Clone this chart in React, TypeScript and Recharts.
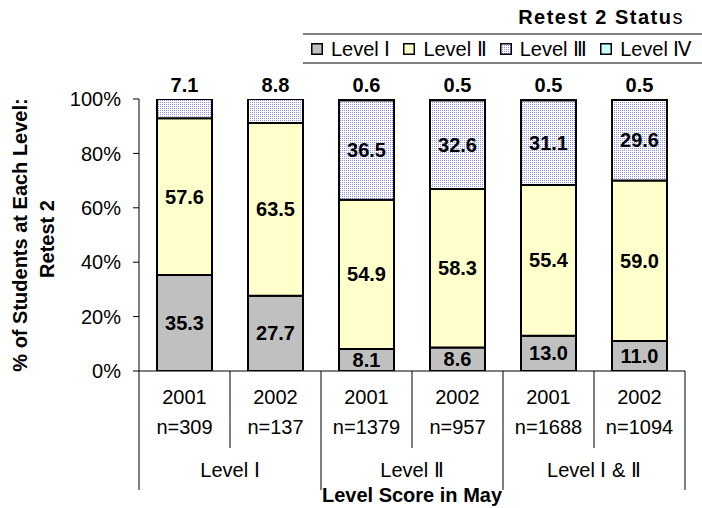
import { BarChart, Bar, XAxis, YAxis, Legend, LabelList, Label } from "recharts";

const categories = ["2001", "2002", "2001", "2002", "2001", "2002"];
const sampleSizes = ["n=309", "n=137", "n=1379", "n=957", "n=1688", "n=1094"];
const groups = ["Level Ⅰ", "Level Ⅱ", "Level Ⅰ & Ⅱ"];
const levelOne = [35.3, 27.7, 8.1, 8.6, 13.0, 11.0];
const levelTwo = [57.6, 63.5, 54.9, 58.3, 55.4, 59.0];
const levelThree = [7.1, 8.8, 36.5, 32.6, 31.1, 29.6];
const levelFour = [0, 0, 0.6, 0.5, 0.5, 0.5];
const yTicks = [0, 20, 40, 60, 80, 100];
const seriesNames = ["Level Ⅰ", "Level Ⅱ", "Level Ⅲ", "Level Ⅳ"];

const FONT = "'Liberation Sans', Arial, sans-serif";
const colors = ["#C0C0C0", "#FFFFCC", "url(#dots)", "#CCFFFF"];
const HALF_BAND = (702 - 139 - 17) / 6 / 2;

const data = categories.map((year, i) => ({
  id: `${groups[Math.floor(i / 2)]} ${year}`,
  year,
  n: sampleSizes[i],
  group: groups[Math.floor(i / 2)],
  l1: levelOne[i],
  l2: levelTwo[i],
  l3: levelThree[i],
  l4: levelFour[i],
}));

const labelText = (x: number, y: number, value: number) => (
  <text x={x} y={y} textAnchor="middle" fontFamily={FONT} fontWeight="bold" fontSize={20} fill="#000">
    {value.toFixed(1)}
  </text>
);

const centerLabel = (props: any) => {
  const { x, y, width, height, value } = props;
  return labelText(x + width / 2, y + height / 2 + 7, value);
};

// level III goes above the bar when there is no level IV on top of it
const levelThreeLabel = (props: any) => {
  const { x, y, width, height, value, index } = props;
  if (levelFour[index] > 0) return labelText(x + width / 2, y + height / 2 + 7, value);
  return labelText(x + width / 2, y - 7, value);
};

const levelFourLabel = (props: any) => {
  const { x, y, width, value } = props;
  if (!value) return null;
  return labelText(x + width / 2, y - 7, value);
};

const CategoryTick = (props: any) => {
  const { x, y, index } = props;
  const d = data[index];
  const shortLen = 77;
  const longLen = 119;
  return (
    <g fontFamily={FONT} fontSize={20} fill="#000">
      <text x={x} y={y + 33} textAnchor="middle">{d.year}</text>
      <text x={x} y={y + 63} textAnchor="middle">{d.n}</text>
      {index === 0 && (
        <line x1={x - HALF_BAND} y1={y} x2={x - HALF_BAND} y2={y + longLen} stroke="#000" />
      )}
      <line
        x1={x + HALF_BAND}
        y1={y}
        x2={x + HALF_BAND}
        y2={y + (index % 2 === 1 ? longLen : shortLen)}
        stroke="#000"
      />
      {index % 2 === 1 && (
        <text x={x - HALF_BAND} y={y + 106} textAnchor="middle">{d.group}</text>
      )}
    </g>
  );
};

const YTitle = (props: any) => {
  const cy = props.viewBox.y + props.viewBox.height / 2;
  return (
    <g fontFamily={FONT} fontWeight="bold" fontSize={20} fill="#000" textAnchor="middle">
      <text transform={`translate(27, ${cy}) rotate(-90)`}>% of Students at Each Level:</text>
      <text transform={`translate(54, ${cy + 4}) rotate(-90)`}>Retest 2</text>
    </g>
  );
};

const LegendBox = () => (
  <div style={{ fontFamily: FONT, color: "#000" }}>
    <svg width={0} height={0} style={{ position: "absolute" }}>
      <defs>
        <pattern id="dots" width={2} height={2} patternUnits="userSpaceOnUse">
          <rect width={2} height={2} fill="#FFFFFF" />
          <rect width={1} height={1} fill="#8C8CFF" />
        </pattern>
      </defs>
    </svg>
    <div
      style={{
        fontWeight: "bold",
        fontSize: 20,
        letterSpacing: 1.5,
        textAlign: "right",
        paddingRight: 18,
        height: 31,
        lineHeight: "30px",
      }}
    >
      Retest 2 Statu<span style={{ fontWeight: "normal" }}>s</span>
    </div>
    <div
      style={{
        borderTop: "2px solid #808080",
        borderBottom: "2px solid #808080",
        height: 27,
        display: "flex",
        alignItems: "center",
        paddingLeft: 8,
        fontSize: 20,
        whiteSpace: "nowrap",
      }}
    >
      {seriesNames.map((name, i) => (
        <span key={name} style={{ display: "flex", alignItems: "center", marginRight: 13 }}>
          <svg width={12} height={12} style={{ marginRight: 8 }}>
            <rect x={0.75} y={0.75} width={10.5} height={10.5} fill={colors[i]} stroke="#000" strokeWidth={1.5} />
          </svg>
          {name}
        </span>
      ))}
    </div>
  </div>
);

export default function App() {
  return (
    <div style={{ position: "absolute", left: 0, top: 0 }}>
      <BarChart
        width={702}
        height={508}
        data={data}
        margin={{ top: 99, right: 17, bottom: 0, left: 0 }}
        style={{ background: "#fff" }}
      >
        <XAxis
          dataKey="id"
          height={137}
          tickSize={0}
          tickMargin={0}
          tickLine={false}
          axisLine={{ stroke: "#000" }}
          tick={<CategoryTick />}
          interval={0}
        >
          <Label
            value="Level Score in May"
            position="insideBottom"
            offset={6}
            style={{ fontFamily: FONT, fontWeight: "bold", fontSize: 20, fill: "#000" }}
          />
        </XAxis>
        <XAxis xAxisId="top" dataKey="id" orientation="top" height={0} tick={false} tickLine={false} axisLine={{ stroke: "#808080", strokeWidth: 2 }} />
        <YAxis
          width={139}
          domain={[0, 100]}
          ticks={yTicks}
          allowDataOverflow
          tickFormatter={(v: number) => `${v}%`}
          tickSize={6}
          tickMargin={12}
          axisLine={{ stroke: "#000" }}
          tickLine={{ stroke: "#000" }}
          tick={{ fontFamily: FONT, fontSize: 20, fill: "#000" }}
          label={<YTitle />}
        />
        <YAxis yAxisId="right" orientation="right" width={0} domain={[0, 100]} tick={false} tickLine={false} axisLine={{ stroke: "#808080", strokeWidth: 2 }} />
        <Legend
          layout="horizontal"
          verticalAlign="middle"
          align="center"
          wrapperStyle={{ top: 2, left: 303, width: 399 }}
          content={<LegendBox />}
        />
        <Bar dataKey="l1" name={seriesNames[0]} stackId="s" fill={colors[0]} stroke="#000" strokeWidth={2} barSize={55} isAnimationActive={false}>
          <LabelList dataKey="l1" content={centerLabel} />
        </Bar>
        <Bar dataKey="l2" name={seriesNames[1]} stackId="s" fill={colors[1]} stroke="#000" strokeWidth={2} barSize={55} isAnimationActive={false}>
          <LabelList dataKey="l2" content={centerLabel} />
        </Bar>
        <Bar dataKey="l3" name={seriesNames[2]} stackId="s" fill={colors[2]} stroke="#000" strokeWidth={2} barSize={55} isAnimationActive={false}>
          <LabelList dataKey="l3" content={levelThreeLabel} />
        </Bar>
        <Bar dataKey="l4" name={seriesNames[3]} stackId="s" fill={colors[3]} stroke="#000" strokeWidth={2} barSize={55} isAnimationActive={false}>
          <LabelList dataKey="l4" content={levelFourLabel} />
        </Bar>
      </BarChart>
    </div>
  );
}
